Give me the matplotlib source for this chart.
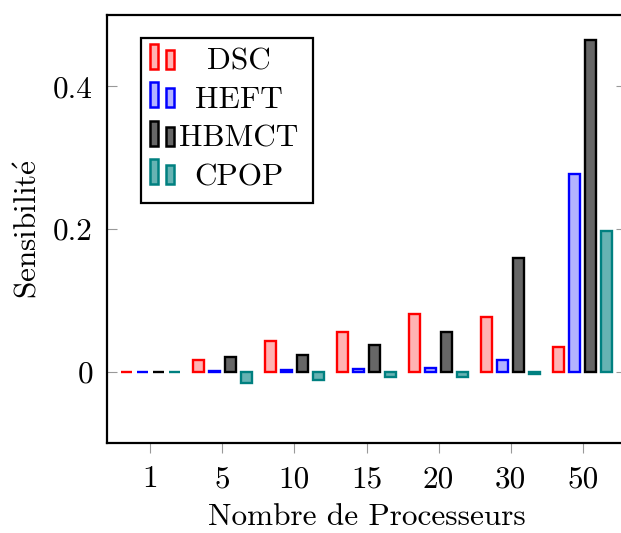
import matplotlib
matplotlib.use("Agg")
import matplotlib.pyplot as plt
from matplotlib.patches import Rectangle
import numpy as np

categories = ["1", "5", "10", "15", "20", "30", "50"]
series_names = ["DSC", "HEFT", "HBMCT", "CPOP"]
dsc = [0.0, 0.017, 0.043, 0.056, 0.0815, 0.077, 0.035]
heft = [0.0, 0.001, 0.002, 0.004, 0.005, 0.016, 0.277]
hbmct = [0.0, 0.021, 0.024, 0.037, 0.055, 0.159, 0.465]
cpop = [0.0, -0.016, -0.011, -0.008, -0.008, -0.003, 0.197]
yticks = [0, 0.2, 0.4]
ytick_labels = ["0", "0.2", "0.4"]

edge_colors = ["#ff0000", "#0000ff", "#000000", "#008080"]
fill_colors = ["#ffb3b3", "#b3b3ff", "#666666", "#66b3b3"]

plt.rcParams["mathtext.fontset"] = "cm"

W, H = 621, 533
fig = plt.figure(figsize=(W / 100, H / 100), dpi=100)
ax = fig.add_axes([107 / W, 1 - 443 / H, (626 - 107) / W, (443 - 15) / H])

FONT = ["cmr10", "DejaVu Serif"]
FS = 22.5

x = np.arange(len(categories))
width = 0.15
step = 0.222
all_series = [dsc, heft, hbmct, cpop]
for i, vals in enumerate(all_series):
    ax.bar(x + (i - 1.5) * step, vals, width=width, color=fill_colors[i],
           edgecolor=edge_colors[i], linewidth=1.7, zorder=3)

ax.set_xlim(-0.6, 6.6)
ax.set_ylim(-0.1, 0.5)
ax.set_xticks(x)
ax.set_xticklabels(categories, fontfamily=FONT, fontsize=FS)
ax.set_yticks(yticks)
ax.set_yticklabels(ytick_labels, fontfamily=FONT, fontsize=FS)
ax.tick_params(axis="x", direction="out", length=7, width=0.8, color="#999999",
               pad=9, bottom=True, top=False)
ax.tick_params(axis="y", direction="in", length=7, width=0.8, color="#999999",
               pad=10, left=True, right=True)
for s in ax.spines.values():
    s.set_linewidth(1.6)
    s.set_color("black")

ax.set_xlabel("Nombre de Processeurs", fontfamily=FONT, fontsize=FS, labelpad=7)
ax.set_ylabel(r"$\mathrm{Sensibilit\acute{e}}$", fontsize=FS, labelpad=8)

# Legend (pgfplots style with two bars per entry, centred text)
def fx(px):
    return px / W

def fy(py):
    return 1 - py / H

fig.patches.append(Rectangle((fx(141), fy(203)), fx(313) - fx(141), fy(37.5) - fy(203),
                             transform=fig.transFigure, facecolor="white",
                             edgecolor="black", linewidth=1.6, zorder=10))
row_bottom = [70, 108.3, 146.7, 185]
for i, name in enumerate(series_names):
    b = row_bottom[i]
    fig.patches.append(Rectangle((fx(150), fy(b - 1)), fx(158) - fx(150), fy(b - 26) - fy(b - 1),
                                 transform=fig.transFigure, facecolor=fill_colors[i],
                                 edgecolor=edge_colors[i], linewidth=1.8, zorder=11))
    fig.patches.append(Rectangle((fx(166), fy(b - 1)), fx(174) - fx(166), fy(b - 20) - fy(b - 1),
                                 transform=fig.transFigure, facecolor=fill_colors[i],
                                 edgecolor=edge_colors[i], linewidth=1.8, zorder=11))
    fig.text(fx(239), fy(b), name, ha="center", va="baseline", fontfamily=FONT,
             fontsize=FS, zorder=12)

fig.savefig("out.png", dpi=100)
